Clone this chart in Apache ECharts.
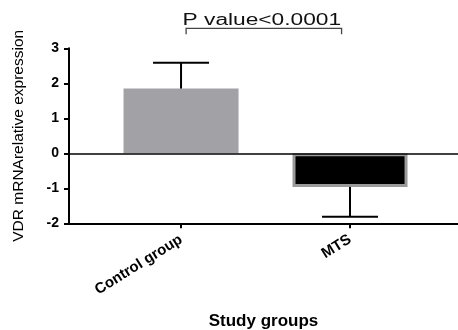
<!DOCTYPE html>
<html>
<head>
<meta charset="utf-8">
<script src="https://cdn.jsdelivr.net/npm/echarts@6/dist/echarts.min.js"></script>
<style>
html,body{margin:0;padding:0;background:#fff;}
#chart{width:458px;height:330px;}
</style>
</head>
<body>
<div id="chart"></div>
<script>
// ---- data ----
var categories = ['Control group', 'MTS'];
var means = [1.85, -0.96];
var errorEnds = [2.59, -1.81];
var yTicks = [-2, -1, 0, 1, 2, 3];
var sigText = 'P value<0.0001';
var sigFrom = 0.03, sigTo = 0.95;      // bracket ends (category positions)
var sigLevel = 3.57, sigDrop = 3.40, sigTextLevel = 3.79;

var barColors = ['#a2a2a6', '#000000'];
var barBorders = ['#a2a2a6', '#9a9a9a'];

var font = "'Liberation Sans', Arial, sans-serif";
var chart = echarts.init(document.getElementById('chart'));

var catPos = categories.map(function (c, i) { return i; });
var barData = means.map(function (v, i) {
  return {
    value: [catPos[i], v],
    itemStyle: { color: barColors[i], borderColor: barBorders[i], borderWidth: i === 1 ? 3 : 0 }
  };
});
var errData = means.map(function (v, i) { return [catPos[i], v, errorEnds[i]]; });

chart.setOption({
  animation: false,
  backgroundColor: '#fff',
  grid: { left: 69, right: 0, top: 48.3, bottom: 106.7, containLabel: false, outerBoundsMode: 'none' },
  xAxis: {
    type: 'value',
    min: -0.663, max: 1.639,
    splitLine: { show: false },
    axisLine: { onZero: false, lineStyle: { color: '#000', width: 2 } },
    axisTick: { show: true, customValues: catPos, length: 5, lineStyle: { color: '#000', width: 2 } },
    axisLabel: {
      customValues: catPos,
      formatter: function (v) { return categories[Math.round(v)] || ''; },
      rotate: 32, margin: 15, color: '#000', fontWeight: 'bold', fontSize: 15, fontFamily: font
    },
    name: 'Study groups', nameLocation: 'middle', nameGap: 90,
    nameTextStyle: { color: '#000', fontWeight: 'bold', fontSize: 17, fontFamily: font, verticalAlign: 'top' }
  },
  yAxis: {
    type: 'value',
    min: yTicks[0], max: yTicks[yTicks.length - 1], interval: 1,
    splitLine: { show: false },
    axisLine: { show: true, onZero: false, lineStyle: { color: '#000', width: 2 } },
    axisTick: { show: true, length: 5, lineStyle: { color: '#000', width: 2 } },
    axisLabel: { color: '#000', fontWeight: 'bold', fontSize: 14, fontFamily: font, margin: 10 },
    name: 'VDR mRNArelative expression', nameLocation: 'middle', nameGap: 42,
    nameTextStyle: { color: '#000', fontSize: 15.5, fontFamily: font }
  },
  series: [
    {
      type: 'bar',
      barWidth: 115,
      data: barData,
      z: 2,
      markLine: {
        silent: true, symbol: 'none', label: { show: false },
        lineStyle: { color: '#000', width: 1.5, type: 'solid' },
        data: [{ yAxis: 0 }]
      }
    },
    {
      type: 'custom',
      z: 5,
      encode: { x: 0, y: [1, 2] },
      data: errData,
      renderItem: function (params, api) {
        var x = api.value(0);
        var p0 = api.coord([x, api.value(1)]);
        var p1 = api.coord([x, api.value(2)]);
        var hw = 28;
        var st = { stroke: '#000', lineWidth: 2 };
        return {
          type: 'group',
          children: [
            { type: 'line', shape: { x1: p0[0], y1: p0[1], x2: p1[0], y2: p1[1] }, style: st },
            { type: 'line', shape: { x1: p1[0] - hw, y1: p1[1], x2: p1[0] + hw, y2: p1[1] }, style: st }
          ]
        };
      }
    },
    {
      type: 'custom',
      z: 5,
      clip: false,
      encode: { x: [0, 1], y: [2, 3, 4] },
      data: [[sigFrom, sigTo, sigLevel, sigDrop, sigTextLevel]],
      renderItem: function (params, api) {
        var a = api.coord([api.value(0), api.value(2)]);
        var b = api.coord([api.value(1), api.value(2)]);
        var ad = api.coord([api.value(0), api.value(3)]);
        var bd = api.coord([api.value(1), api.value(3)]);
        var t = api.coord([(api.value(0) + api.value(1)) / 2, api.value(4)]);
        var st = { stroke: '#444', lineWidth: 1.3, fill: null };
        return {
          type: 'group',
          children: [
            { type: 'polyline', shape: { points: [[ad[0], ad[1]], [a[0], a[1]], [b[0], b[1]], [bd[0], bd[1]]] }, style: st },
            {
              type: 'text', x: t[0] - 2, y: t[1], scaleX: 1.42,
              style: { text: sigText, fill: '#111', fontSize: 16, fontFamily: font, align: 'center', verticalAlign: 'middle' }
            }
          ]
        };
      }
    }
  ]
});
</script>
</body>
</html>
